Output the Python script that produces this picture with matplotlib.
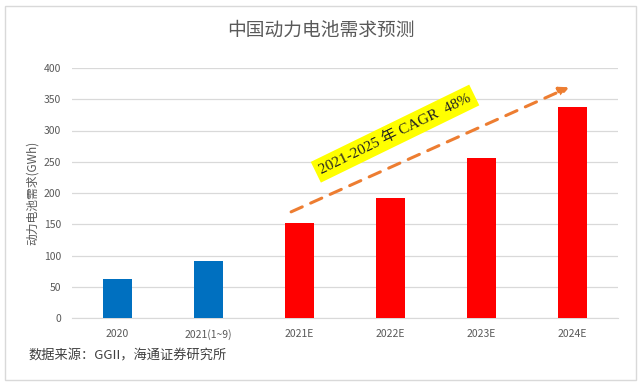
import matplotlib
matplotlib.use("Agg")
import matplotlib.pyplot as plt
from matplotlib.patches import Rectangle

plt.rcParams['font.family'] = ['Noto Sans CJK SC', 'DejaVu Sans']

categories = ["2020", "2021(1~9)", "2021E", "2022E", "2023E", "2024E"]
values = [62, 91, 152, 192, 256, 337]
colors = ["#0070C0", "#0070C0", "#FF0000", "#FF0000", "#FF0000", "#FF0000"]
yticks = [0, 50, 100, 150, 200, 250, 300, 350, 400]

fig = plt.figure(figsize=(6.41, 3.84), dpi=100)
ax = fig.add_axes([72/641, 1-318/384, 546/641, 250/384])

x = list(range(len(categories)))
ax.bar(x, values, width=0.31, color=colors, zorder=3)
ax.set_xlim(-0.5, len(categories)-0.5)
ax.set_ylim(0, 400)
ax.set_yticks(yticks)
ax.set_xticks(x)
ax.set_xticklabels(categories)
ax.grid(axis='y', color='#D9D9D9', linewidth=0.9, zorder=0)
for s in ['top', 'right', 'left']:
    ax.spines[s].set_visible(False)
ax.spines['bottom'].set_color('#D9D9D9')
ax.tick_params(axis='both', length=0, labelsize=7.5, colors='#595959', pad=8)
ax.set_ylabel("动力电池需求(GWh)", fontsize=8.5, color='#595959', labelpad=3)

# CAGR arrow
ax.annotate("", xy=(4.99, 371), xytext=(1.88, 168),
            arrowprops=dict(arrowstyle='-|>', color='#ED7D31', lw=2.2,
                            linestyle=(0, (4, 3)), mutation_scale=14),
            zorder=4, annotation_clip=False)
ax.text(3.05, 295, "2021-2025 年 CAGR  48%", rotation=26, ha='center', va='center',
        fontsize=11, family=['Liberation Serif', 'Noto Sans CJK SC'], color='#222222',
        bbox=dict(boxstyle='square,pad=0.3', fc='#FFFF00', ec='none'), zorder=5)

fig.text(0.5, 1-30/384, "中国动力电池需求预测", ha='center', va='center',
         fontsize=13.5, color='#595959')
fig.text(28/641, 1-356/384, "数据来源：GGII，海通证券研究所", ha='left', va='center',
         fontsize=9.5, color='#404040')

fig.add_artist(Rectangle((5/641, 4/384), 631/641, 374/384, transform=fig.transFigure,
                         fill=False, ec='#D9D9D9', lw=1))

fig.savefig("out.png", dpi=100)
